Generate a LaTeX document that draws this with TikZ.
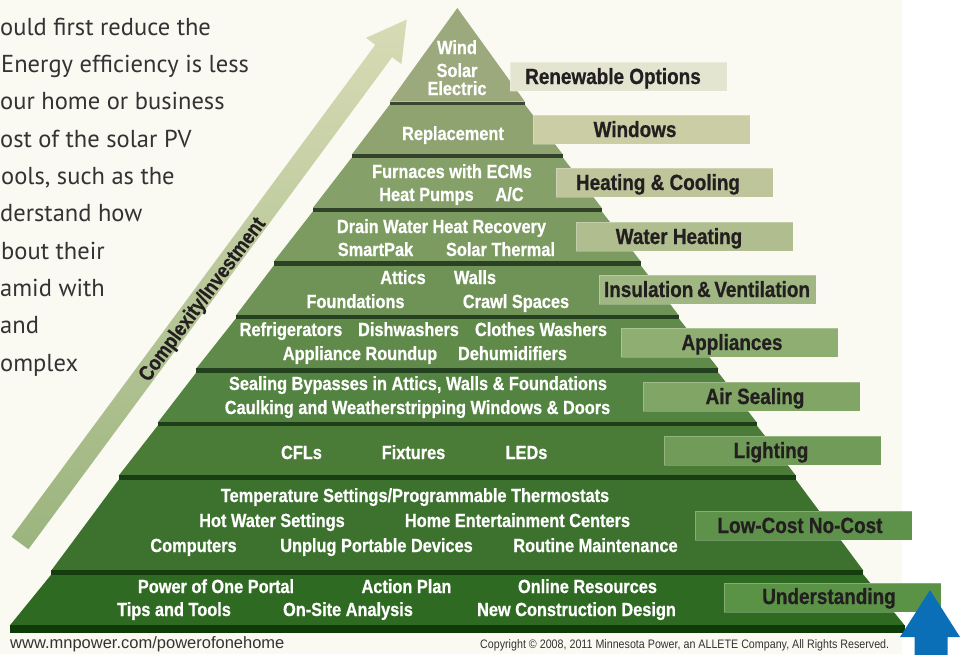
\documentclass[tikz,border=0pt]{standalone}
\usepackage{fontspec}
\newfontfamily\cond[FakeStretch=0.87]{Liberation Sans}
\newfontfamily\condB[FakeStretch=0.86, BoldFeatures={FakeBold=0.7}]{Liberation Sans}
\newfontfamily\plainf{Liberation Sans}
\newfontfamily\bodyf{PT Sans}
\definecolor{bg}{HTML}{FAF9F2}
\definecolor{txtdark}{HTML}{231F20}
\definecolor{paratxt}{HTML}{333333}
\definecolor{arrtop}{HTML}{D8DBB5}
\definecolor{arrbot}{HTML}{9BB47E}
\definecolor{blueup}{HTML}{0B6FB8}
\definecolor{Lone}{HTML}{9CA97C}
\definecolor{Ltwo}{HTML}{8FA371}
\definecolor{Lthree}{HTML}{86A069}
\definecolor{Lfour}{HTML}{7C9B60}
\definecolor{Lfive}{HTML}{6F9356}
\definecolor{Lsix}{HTML}{5F8A49}
\definecolor{Lseven}{HTML}{528340}
\definecolor{Leight}{HTML}{4B7C37}
\definecolor{Lnine}{HTML}{3C722D}
\definecolor{Lten}{HTML}{2F6A22}
\definecolor{Bone}{HTML}{3A4630}
\definecolor{Btwo}{HTML}{34422B}
\definecolor{Bthree}{HTML}{2F4227}
\definecolor{Bfour}{HTML}{2A4124}
\definecolor{Bfive}{HTML}{264022}
\definecolor{Bsix}{HTML}{223F1E}
\definecolor{Bseven}{HTML}{1E3F19}
\definecolor{Beight}{HTML}{1A3E14}
\definecolor{Bnine}{HTML}{153D0E}
\definecolor{Bten}{HTML}{0F3B08}
\definecolor{Kone}{HTML}{E3E5D0}
\definecolor{Ktwo}{HTML}{CBCDA5}
\definecolor{Kthree}{HTML}{BEC59A}
\definecolor{Kfour}{HTML}{B0BE8F}
\definecolor{Kfive}{HTML}{A0B783}
\definecolor{Ksix}{HTML}{8FAF72}
\definecolor{Kseven}{HTML}{80A565}
\definecolor{Keight}{HTML}{709B58}
\definecolor{Knine}{HTML}{5E914A}
\definecolor{Kten}{HTML}{5B9346}
\tikzset{
  para/.style={anchor=base west, inner sep=0pt, text=paratxt, font=\bodyf\fontsize{24.5}{26}\selectfont},
  wt/.style={anchor=base, inner sep=0pt, text=white, font=\condB\bfseries\fontsize{19}{21}\selectfont},
  lbltxt/.style={anchor=base, inner sep=0pt, text=txtdark, font=\condB\bfseries\fontsize{22}{24}\selectfont},
  lblbox/.style={draw=white, draw opacity=0.25, line width=0.8pt},
  foot/.style={anchor=base west, inner sep=0pt, text=paratxt},
}
\begin{document}
\begin{tikzpicture}[x=1pt,y=-1pt]
\useasboundingbox (0,0) rectangle (965,654);
\clip (0,0) rectangle (965,654);
\fill[white] (0,0) rectangle (965,654);
\fill[bg] (0,0) rectangle (902,654);

% left paragraph (cut off)
\node[para] (p1) at (0,35) {ould first reduce the};
\node[para] (p2) at (1,72.3) {Energy efficiency is less};
\node[para] (p3) at (0,109.7) {our home or business};
\node[para] (p4) at (0,147) {ost of the solar PV};
\node[para] (p5) at (1,184.3) {ools, such as the};
\node[para] (p6) at (0,221.7) {derstand how};
\node[para] (p7) at (1,259) {bout their};
\node[para] (p8) at (0,296.3) {amid with};
\node[para] (p9) at (0,333.7) {and};
\node[para] (p10) at (0,371) {omplex};

% complexity arrow
\shade[top color=arrtop, bottom color=arrbot]
  (11.6,536.8) -- (375.3,44.8) -- (366,37.9) -- (406.7,19.6) -- (401.4,64.1) -- (392.1,57.2) -- (28.4,549.2) -- cycle;
\node[rotate=53.5, inner sep=0pt, text=txtdark, font=\condB\bfseries\fontsize{21}{23}\selectfont] (cx) at (203,300) {Complexity/Investment};

% pyramid layers
\def\cx{457.3}
\fill[Lone] (\cx,8) -- ({\cx+67.5},101.5) -- ({\cx-67.5},101.5) -- cycle;
\foreach \yt/\wt/\yb/\wb/\col in {105/67.5/154/105.5/Ltwo, 158/105.5/207.5/144.5/Lthree, 212/144.5/261/183.5/Lfour, 266/183.5/315/221.5/Lfive, 319/221.5/368/261/Lsix, 373/261/422/299.5/Lseven, 426/299.5/475/338.5/Leight, 480/338.5/570/406/Lnine, 575/406/625/447.5/Lten}{
  \fill[\col] ({\cx-\wt},{\yt-0.5}) -- ({\cx+\wt},{\yt-0.5}) -- ({\cx+\wb},{\yb+0.5}) -- ({\cx-\wb},{\yb+0.5}) -- cycle;
}
\foreach \yt/\yb/\w/\col in {101.5/105/67.5/Bone, 154/158/105.5/Btwo, 207.5/212/144.5/Bthree, 261/266/183.5/Bfour, 315/319/221.5/Bfive, 368/373/261/Bsix, 422/426/299.5/Bseven, 475/480/338.5/Beight, 570/575/406/Bnine, 625/633/447.5/Bten}{
  \fill[\col] ({\cx-\w},\yt) rectangle ({\cx+\w},\yb);
}

% pyramid texts
\node[wt] (t1a) at (457,54) {Wind};
\node[wt] (t1b) at (457,77) {Solar};
\node[wt] (t1c) at (457,95) {Electric};
\node[wt] (t2) at (453,140) {Replacement};
\node[wt] (t3a) at (452,178) {Furnaces with ECMs};
\node[wt] (t3b) at (426.5,201) {Heat Pumps};
\node[wt] (t3c) at (509.5,201) {A/C};
\node[wt] (t4a) at (441.5,233) {Drain Water Heat Recovery};
\node[wt] (t4b) at (375.5,256) {SmartPak};
\node[wt] (t4c) at (500.5,256) {Solar Thermal};
\node[wt] (t5a) at (403,284) {Attics};
\node[wt] (t5b) at (475,284) {Walls};
\node[wt] (t5c) at (355.5,308) {Foundations};
\node[wt] (t5d) at (516,308) {Crawl Spaces};
\node[wt] (t6a) at (291,336) {Refrigerators};
\node[wt] (t6b) at (408.5,336) {Dishwashers};
\node[wt] (t6c) at (541,336) {Clothes Washers};
\node[wt] (t6d) at (360,360) {Appliance Roundup};
\node[wt] (t6e) at (512.5,360) {Dehumidifiers};
\node[wt] (t7a) at (418,390) {Sealing Bypasses in Attics, Walls \& Foundations};
\node[wt] (t7b) at (417.5,414) {Caulking and Weatherstripping Windows \& Doors};
\node[wt] (t8a) at (301.5,459) {CFLs};
\node[wt] (t8b) at (413.5,459) {Fixtures};
\node[wt] (t8c) at (526.5,459) {LEDs};
\node[wt] (t9a) at (415,502) {Temperature Settings/Programmable Thermostats};
\node[wt] (t9b) at (272,527) {Hot Water Settings};
\node[wt] (t9c) at (517.5,527) {Home Entertainment Centers};
\node[wt] (t9d) at (193.5,552) {Computers};
\node[wt] (t9e) at (376.5,552) {Unplug Portable Devices};
\node[wt] (t9f) at (595.5,552) {Routine Maintenance};
\node[wt] (t10a) at (216,593) {Power of One Portal};
\node[wt] (t10b) at (406.5,593) {Action Plan};
\node[wt] (t10c) at (587.5,593) {Online Resources};
\node[wt] (t10d) at (174,616) {Tips and Tools};
\node[wt] (t10e) at (348,616) {On-Site Analysis};
\node[wt] (t10f) at (576.5,616) {New Construction Design};

% label boxes
\foreach \xl/\yt/\col in {510/62/Kone, 533/115/Ktwo, 556/168/Kthree, 576/222/Kfour, 599/275/Kfive, 621/328/Ksix, 643/382/Kseven, 664/436/Keight, 695/511/Knine, 724/583/Kten}{
  \fill[\col] (\xl,\yt) rectangle ({\xl+217},{\yt+29});
  \draw[lblbox] (\xl,\yt) rectangle ({\xl+217},{\yt+29});
}
\node[lbltxt] (k1) at (613,84) {Renewable Options};
\node[lbltxt] (k2) at (635,137) {Windows};
\node[lbltxt] (k3) at (658,190) {Heating \& Cooling};
\node[lbltxt] (k4) at (679,244) {Water Heating};
\node[lbltxt] (k5) at (707,297) {Insulation\,\&\,Ventilation};
\node[lbltxt] (k6) at (732,350) {Appliances};
\node[lbltxt] (k7) at (755,404) {Air Sealing};
\node[lbltxt] (k8) at (771,458) {Lighting};
\node[lbltxt] (k9) at (800,533) {Low-Cost No-Cost};
\node[lbltxt] (k10) at (829,604) {Understanding};

% footer
\node[foot, font=\plainf\fontsize{16.5}{18}\selectfont] (url) at (10,648) {www.mnpower.com/powerofonehome};
\node[foot, font=\cond\fontsize{12.3}{14}\selectfont] (copy) at (480,648) {Copyright © 2008, 2011 Minnesota Power, an ALLETE Company, All Rights Reserved.};

% blue arrow
\fill[blueup] (930,590) -- (960,637) -- (947.5,637) -- (947.5,660) -- (914.5,660) -- (914.5,637) -- (900,637) -- cycle;
\end{tikzpicture}
\end{document}
